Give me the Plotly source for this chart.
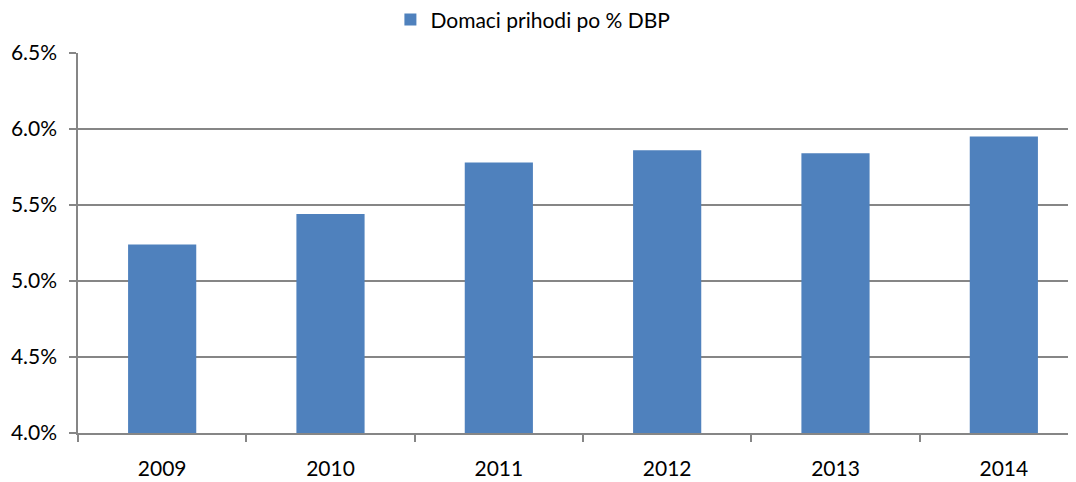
import plotly.graph_objects as go

years = ["2009", "2010", "2011", "2012", "2013", "2014"]
values = [5.24, 5.44, 5.78, 5.86, 5.84, 5.95]
series_name = "Domaci prihodi po % DBP"
y_ticks = [4.0, 4.5, 5.0, 5.5, 6.0, 6.5]
y_tick_labels = ["4.0%", "4.5%", "5.0%", "5.5%", "6.0%", "6.5%"]

FONT = "Lato"
GRAY = "#868686"

fig = go.Figure()
fig.add_trace(go.Bar(
    x=years, y=values, name=series_name,
    marker=dict(color="#4F81BD", line=dict(width=0)),
    showlegend=True,
))

fig.update_layout(
    width=1080, height=482,
    margin=dict(l=70, r=0, t=45, b=57, autoexpand=False),
    paper_bgcolor="white", plot_bgcolor="white",
    font=dict(family=FONT, size=21, color="#000000"),
    bargap=0.595,
    showlegend=True,
    legend=dict(
        orientation="h", x=0.4504, xanchor="center",
        y=1.087, yanchor="middle",
        font=dict(size=21, family=FONT),
        itemwidth=30,
    ),
    xaxis=dict(
        type="category",
        range=[-0.5, 5.5],
        showline=True, linecolor=GRAY, linewidth=1.5,
        ticks="outside", ticklen=7, tickcolor=GRAY, tickwidth=1.5,
        tickson="boundaries",
        showgrid=False,
        ticklabelstandoff=16,
        tickfont=dict(size=21, family=FONT),
    ),
    yaxis=dict(
        range=[4.0, 6.5],
        tickvals=y_ticks, ticktext=y_tick_labels,
        showline=True, linecolor=GRAY, linewidth=1.5,
        ticks="outside", ticklen=7, tickcolor=GRAY, tickwidth=1.5,
        showgrid=True, gridcolor=GRAY, gridwidth=1.5,
        zeroline=False,
        ticklabelstandoff=8,
        tickfont=dict(size=21, family=FONT),
    ),
)

fig.write_html("out.html")
